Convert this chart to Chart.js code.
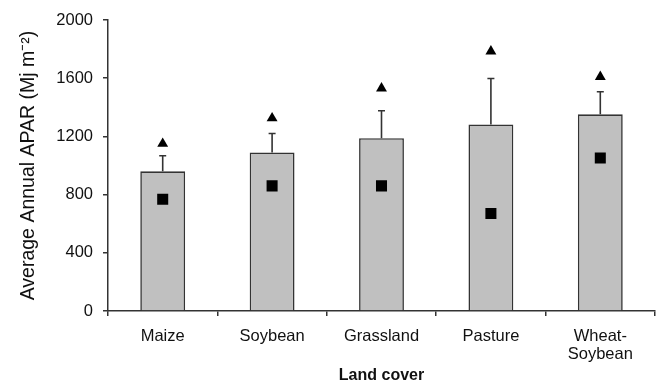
<!DOCTYPE html>
<html>
<head>
<meta charset="utf-8">
<script src="https://cdn.jsdelivr.net/npm/chart.js@4/dist/chart.umd.min.js"></script>
<style>
  html, body { margin: 0; padding: 0; background: #fff; }
  #wrap { width: 664px; height: 386px; }
</style>
</head>
<body>
<div id="wrap"><canvas id="c" width="664" height="386"></canvas></div>
<script>
// Land cover classes on the x axis
const categories = ['Maize', 'Soybean', 'Grassland', 'Pasture', ['Wheat-', 'Soybean']];
// Mean annual APAR (bars)
const meanAPAR = [960, 1090, 1188, 1282, 1352];
// Standard deviation shown as upward error bars
const sdAPAR = [107, 130, 188, 316, 155];
// Maximum annual APAR (triangles)
const maxAPAR = [1150, 1325, 1530, 1785, 1610];
// Minimum annual APAR (squares)
const minAPAR = [768, 860, 860, 670, 1052];
// Y-axis tick settings
const yMin = 0, yMax = 2000, yStep = 400;

const axisColor = '#333333';

// Draws the upper half of the error bars above each bar
const upperErrorBars = {
  id: 'upperErrorBars',
  afterDatasetsDraw(chart) {
    const meta = chart.getDatasetMeta(2);
    const yScale = chart.scales.y;
    const ctx = chart.ctx;
    ctx.save();
    ctx.strokeStyle = axisColor;
    ctx.lineWidth = 1.6;
    meta.data.forEach((bar, i) => {
      const x = bar.x;
      const yTop = yScale.getPixelForValue(meanAPAR[i] + sdAPAR[i]);
      const yBase = yScale.getPixelForValue(meanAPAR[i]);
      ctx.beginPath();
      ctx.moveTo(x, yBase);
      ctx.lineTo(x, yTop);
      ctx.moveTo(x - 3.5, yTop);
      ctx.lineTo(x + 3.5, yTop);
      ctx.stroke();
    });
    ctx.restore();
  }
};

Chart.defaults.font.family = '"Liberation Sans", Arial, sans-serif';
Chart.defaults.color = '#111';

new Chart(document.getElementById('c'), {
  type: 'bar',
  data: {
    labels: categories,
    datasets: [
      {
        type: 'line',
        label: 'Maximum',
        data: maxAPAR,
        showLine: false,
        pointStyle: 'triangle',
        pointRadius: 6.3,
        pointBackgroundColor: '#000',
        pointBorderColor: '#000',
        pointBorderWidth: 0,
        order: 0
      },
      {
        type: 'line',
        label: 'Minimum',
        data: minAPAR,
        showLine: false,
        pointStyle: 'rect',
        pointRadius: 7.8,
        pointBackgroundColor: '#000',
        pointBorderColor: '#000',
        pointBorderWidth: 0,
        order: 0
      },
      {
        label: 'Mean',
        data: meanAPAR,
        backgroundColor: '#c0c0c0',
        borderColor: axisColor,
        borderWidth: 1.6,
        borderSkipped: 'bottom',
        barPercentage: 0.41,
        categoryPercentage: 1.0,
        order: 1
      }
    ]
  },
  options: {
    responsive: false,
    animation: false,
    devicePixelRatio: 1,
    layout: { padding: { top: 20, right: 9, left: 0, bottom: 1 } },
    plugins: {
      legend: { display: false },
      tooltip: { enabled: false }
    },
    scales: {
      x: {
        offset: true,
        grid: {
          offset: true,
          drawOnChartArea: false,
          drawTicks: true,
          tickLength: 5,
          color: axisColor,
          lineWidth: 1.5
        },
        border: { color: axisColor, width: 1.5 },
        ticks: {
          font: { size: 16.5, lineHeight: 1.05 },
          color: '#111',
          padding: 12,
          maxRotation: 0,
          autoSkip: false
        },
        title: {
          display: true,
          text: 'Land cover',
          font: { size: 16, weight: 'bold' },
          color: '#111',
          padding: { top: 0, bottom: 0 }
        },
        afterFit(scale) { scale.height = 74; }
      },
      y: {
        min: yMin,
        max: yMax,
        ticks: {
          stepSize: yStep,
          font: { size: 16.5 },
          color: '#111',
          padding: 10,
          callback: (v) => String(v)
        },
        grid: {
          drawOnChartArea: false,
          drawTicks: true,
          tickLength: 5,
          color: axisColor,
          lineWidth: 1.5
        },
        border: { color: axisColor, width: 1.5 },
        title: {
          display: true,
          text: 'Average Annual APAR (Mj m\u207B\u00B2)',
          font: { size: 19.5 },
          color: '#111',
          padding: { top: 17, bottom: 0 }
        },
        afterFit(scale) { scale.width = 108; }
      }
    }
  },
  plugins: [upperErrorBars]
});
</script>
</body>
</html>
